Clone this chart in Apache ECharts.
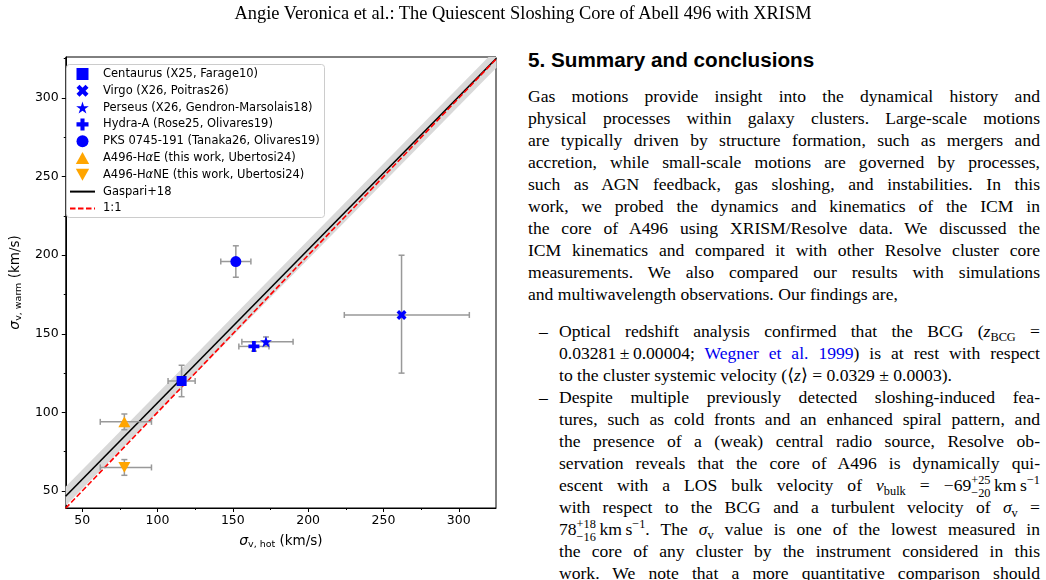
<!DOCTYPE html>
<html>
<head>
<meta charset="utf-8">
<script src="https://cdn.jsdelivr.net/npm/echarts@6/dist/echarts.min.js"></script>
<style>
  body { margin: 0; width: 1046px; height: 580px; overflow: hidden; background: #fff; position: relative; }
  #chart { position: absolute; left: 0; top: 0; width: 520px; height: 580px; }
  .serif { font-family: "Liberation Serif", "DejaVu Serif", serif; color: #000; }
  #hdr { position: absolute; left: 0; width: 1046px; top: 2px; text-align: center; font-size: 18.4px; line-height: 22px; }
  #h5 { position: absolute; left: 528px; top: 48px; font-family: "Liberation Sans", Arial, sans-serif; font-weight: bold; font-size: 20.7px; }
  #para { position: absolute; left: 528px; top: 85px; width: 512px; font-size: 17.6px; line-height: 22px; }
  #bul { position: absolute; left: 528px; top: 320px; width: 512px; font-size: 17.6px; line-height: 22px; }
  .ln { height: 22px; white-space: normal; }
  .j { text-align: justify; text-align-last: justify; }
  .item { position: relative; padding-left: 31px; }
  .dash { position: absolute; left: 11px; top: 0; }
  sub, sup { font-size: 70%; line-height: 0; }
  sub { vertical-align: -0.3em; }
  sup { vertical-align: 0.55em; }
  .ss { display: inline-block; vertical-align: -0.45em; font-size: 70%; line-height: 1; }
  .ss span { display: block; }
  .blue { color: #0000ee; }
</style>
</head>
<body>
<div id="chart"></div>

<div id="hdr" class="serif">Angie Veronica et al.: The Quiescent Sloshing Core of Abell 496 with XRISM</div>
<div id="h5">5. Summary and conclusions</div>

<div id="para" class="serif">
  <div class="ln j">Gas motions provide insight into the dynamical history and</div>
  <div class="ln j">physical processes within galaxy clusters. Large-scale motions</div>
  <div class="ln j">are typically driven by structure formation, such as mergers and</div>
  <div class="ln j">accretion, while small-scale motions are governed by processes,</div>
  <div class="ln j">such as AGN feedback, gas sloshing, and instabilities. In this</div>
  <div class="ln j">work, we probed the dynamics and kinematics of the ICM in</div>
  <div class="ln j">the core of A496 using XRISM/Resolve data. We discussed the</div>
  <div class="ln j">ICM kinematics and compared it with other Resolve cluster core</div>
  <div class="ln j">measurements. We also compared our results with simulations</div>
  <div class="ln">and multiwavelength observations. Our findings are,</div>
</div>

<div id="bul" class="serif">
  <div class="item"><span class="dash">–</span>
    <div class="ln j">Optical redshift analysis confirmed that the BCG (<i>z</i><sub>BCG</sub> =</div>
    <div class="ln j">0.03281&thinsp;±&thinsp;0.00004; <span class="blue">Wegner et al. 1999</span>) is at rest with respect</div>
    <div class="ln">to the cluster systemic velocity (⟨<i>z</i>⟩ = 0.0329 ± 0.0003).</div>
  </div>
  <div class="item"><span class="dash">–</span>
    <div class="ln j">Despite multiple previously detected sloshing-induced fea-</div>
    <div class="ln j">tures, such as cold fronts and an enhanced spiral pattern, and</div>
    <div class="ln j">the presence of a (weak) central radio source, Resolve ob-</div>
    <div class="ln j">servation reveals that the core of A496 is dynamically qui-</div>
    <div class="ln j">escent with a LOS bulk velocity of <i>v</i><sub>bulk</sub> = −69<span class="ss"><span>+25</span><span>−20</span></span>&thinsp;km&thinsp;s<sup>−1</sup></div>
    <div class="ln j">with respect to the BCG and a turbulent velocity of <i>σ</i><sub>v</sub> =</div>
    <div class="ln j">78<span class="ss"><span>+18</span><span>−16</span></span>&thinsp;km&thinsp;s<sup>−1</sup>. The <i>σ</i><sub>v</sub> value is one of the lowest measured in</div>
    <div class="ln j">the core of any cluster by the instrument considered in this</div>
    <div class="ln j">work. We note that a more quantitative comparison should</div>
  </div>
</div>

<script>
// cluster core measurements (km/s)
const names = [
  'Centaurus (X25, Farage10)',
  'Virgo (X26, Poitras26)',
  'Perseus (X26, Gendron-Marsolais18)',
  'Hydra-A (Rose25, Olivares19)',
  'PKS 0745-191 (Tanaka26, Olivares19)',
  'A496-HαE (this work, Ubertosi24)',
  'A496-HαNE (this work, Ubertosi24)'
];
const sigmaHot  = [116, 262, 172, 164, 152, 78, 78];
const sigmaWarm = [120, 162, 145, 142, 196, 94, 65];
const hotErrLo  = [9, 38, 16, 10, 10, 16, 16];
const hotErrHi  = [9, 45, 18, 10, 10, 18, 18];
const warmErrLo = [10, 37, 3, 3, 10, 5, 5];
const warmErrHi = [10, 38, 3, 3, 10, 5, 5];

// Gaspari+18 relation and its scatter band, 1:1 line
const gaspariX = [39, 325];
const gaspariY = [46.7, 325.3];
const bandLow  = [40.7, 319.3];
const bandHigh = [52.7, 331.3];
const oneToOne = [39, 327];

const xTicks = [50, 100, 150, 200, 250, 300];
const xMinorTicks = [75, 125, 175, 225, 275];
const yTicks = [50, 100, 150, 200, 250, 300];
const yMinorTicks = [75, 125, 175, 225, 275, 325];

const BLUE = '#0000ff', ORANGE = '#ffa500';
const markers = [
  { symbol: 'path://M0,0 L1,0 L1,1 L0,1 Z', size: 10, color: BLUE },
  { symbol: 'path://M0.25,0 L0.5,0.25 L0.75,0 L1,0.25 L0.75,0.5 L1,0.75 L0.75,1 L0.5,0.75 L0.25,1 L0,0.75 L0.25,0.5 L0,0.25 Z', size: 10, color: BLUE },
  { symbol: 'path://M0,-1 L0.224,-0.308 L0.951,-0.309 L0.362,0.118 L0.588,0.809 L0,0.381 L-0.588,0.809 L-0.362,0.118 L-0.951,-0.309 L-0.224,-0.308 Z', size: 12, color: BLUE },
  { symbol: 'path://M0.33,0 L0.67,0 L0.67,0.33 L1,0.33 L1,0.67 L0.67,0.67 L0.67,1 L0.33,1 L0.33,0.67 L0,0.67 L0,0.33 L0.33,0.33 Z', size: 11, color: BLUE },
  { symbol: 'path://M0,-1 A1,1 0 1,1 0,1 A1,1 0 1,1 0,-1 Z', size: 11, color: BLUE },
  { symbol: 'path://M0.5,0 L1,0.9 L0,0.9 Z', size: 12, color: ORANGE },
  { symbol: 'path://M0,0 L1,0 L0.5,0.9 Z', size: 12, color: ORANGE }
];

const FONT = 'DejaVu Sans';
const xMin = 39.1, xMax = 324.7, yMin = 39.2, yMax = 326.1;

var chart = echarts.init(document.getElementById('chart'));

function axisBase(min, max) {
  return { type: 'value', min: min, max: max, splitLine: { show: false } };
}

var scatterSeries = names.map(function (n, i) {
  return {
    name: n,
    type: 'scatter',
    z: 6,
    symbol: markers[i].symbol,
    symbolSize: markers[i].size,
    symbolKeepAspect: true,
    itemStyle: { color: markers[i].color, opacity: 1 },
    data: [[sigmaHot[i], sigmaWarm[i]]]
  };
});

var errData = sigmaHot.map(function (x, i) {
  return [x, sigmaWarm[i], hotErrLo[i], hotErrHi[i], warmErrLo[i], warmErrHi[i]];
});

var nameRich = {
  s: { fontFamily: FONT, fontStyle: 'italic', fontSize: 14, lineHeight: 18, color: '#000' },
  sub: { fontFamily: FONT, fontSize: 9.5, lineHeight: 8, verticalAlign: 'bottom', color: '#000' },
  n: { fontFamily: FONT, fontSize: 13.5, lineHeight: 18, color: '#000' }
};

var legendData = names.map(function (n) { return { name: n }; }).concat([
  { name: 'Gaspari+18', itemStyle: { opacity: 0 } },
  { name: '1:1', itemStyle: { opacity: 0 } }
]);

var option = {
  animation: false,
  grid: { left: 59, top: 57, width: 437, height: 451, show: true, borderColor: '#000', borderWidth: 1, backgroundColor: 'transparent' },
  graphic: [{
    type: 'rect',
    left: 66, top: 64, z: 50,
    shape: { width: 258, height: 153, r: 3 },
    style: { fill: 'rgba(255,255,255,0.8)', stroke: '#cccccc', lineWidth: 1 }
  }],
  xAxis: [
    Object.assign(axisBase(xMin, xMax), {
      position: 'bottom',
      axisLine: { show: true, onZero: false, lineStyle: { color: '#000', width: 1 } },
      axisTick: { show: true, length: 4, customValues: xTicks, lineStyle: { color: '#000' } },
      axisLabel: { customValues: xTicks, margin: 6, color: '#000', fontFamily: FONT, fontSize: 12.5 },
      name: '{s|σ}{sub|v, hot} {n|(km/s)}',
      nameLocation: 'middle',
      nameGap: 24,
      nameTextStyle: { color: '#000', fontFamily: FONT, fontSize: 13.5, rich: nameRich }
    }),
    Object.assign(axisBase(xMin, xMax), {
      position: 'bottom',
      axisLine: { show: false, onZero: false },
      axisTick: { show: true, length: 2, customValues: xMinorTicks, lineStyle: { color: '#000' } },
      axisLabel: { show: false }
    })
  ],
  yAxis: [
    Object.assign(axisBase(yMin, yMax), {
      position: 'left',
      axisLine: { show: true, onZero: false, lineStyle: { color: '#000', width: 1 } },
      axisTick: { show: true, length: 4, customValues: yTicks, lineStyle: { color: '#000' } },
      axisLabel: { customValues: yTicks, margin: 7, color: '#000', fontFamily: FONT, fontSize: 12.5 },
      name: '{s|σ}{sub|v, warm} {n|(km/s)}',
      nameLocation: 'middle',
      nameRotate: 90,
      nameGap: 35,
      nameTextStyle: { color: '#000', fontFamily: FONT, fontSize: 13.5, rich: nameRich }
    }),
    Object.assign(axisBase(yMin, yMax), {
      position: 'left',
      axisLine: { show: false, onZero: false },
      axisTick: { show: true, length: 2, customValues: yMinorTicks, lineStyle: { color: '#000' } },
      axisLabel: { show: false }
    })
  ],
  legend: {
    orient: 'vertical',
    left: 66,
    top: 64,
    z: 60,
    padding: [4, 5, 3, 3],
    itemWidth: 25,
    itemHeight: 12,
    itemGap: 4.8,
    selectedMode: false,
    symbolKeepAspect: true,
    data: legendData,
    formatter: function (n) { return n.replace('α', '{i|α}'); },
    textStyle: {
      color: '#000', fontFamily: FONT, fontSize: 11.5, lineHeight: 12, padding: [0, 0, 0, 3],
      rich: { i: { fontFamily: FONT, fontStyle: 'italic', fontSize: 11.5, color: '#000' } }
    }
  },
  series: [
    {
      type: 'custom',
      name: 'band',
      z: 1,
      clip: true,
      silent: true,
      data: [0],
      renderItem: function (params, api) {
        var pts = [
          api.coord([gaspariX[0], bandLow[0]]),
          api.coord([gaspariX[1], bandLow[1]]),
          api.coord([gaspariX[1], bandHigh[1]]),
          api.coord([gaspariX[0], bandHigh[0]])
        ];
        return { type: 'polygon', shape: { points: pts }, style: { fill: '#d9d9d9' } };
      }
    },
    {
      name: 'Gaspari+18',
      type: 'line',
      z: 2,
      symbol: 'none',
      lineStyle: { color: '#000', width: 1.6 },
      itemStyle: { color: '#000' },
      data: gaspariX.map(function (x, i) { return [x, gaspariY[i]]; })
    },
    {
      name: '1:1',
      type: 'line',
      z: 3,
      symbol: 'none',
      lineStyle: { color: '#ff0000', width: 1.6, type: [5.5, 2.5] },
      itemStyle: { color: '#ff0000' },
      data: oneToOne.map(function (v) { return [v, v]; })
    },
    {
      type: 'custom',
      name: 'errors',
      z: 4,
      silent: true,
      data: errData,
      renderItem: function (params, api) {
        var x = api.value(0), y = api.value(1);
        var c = api.coord([x, y]);
        var l = api.coord([x - api.value(2), y])[0];
        var r = api.coord([x + api.value(3), y])[0];
        var b = api.coord([x, y - api.value(4)])[1];
        var t = api.coord([x, y + api.value(5)])[1];
        var cap = 3;
        var st = { stroke: '#999999', lineWidth: 1.5 };
        return {
          type: 'group',
          children: [
            { type: 'line', shape: { x1: l, y1: c[1], x2: r, y2: c[1] }, style: st },
            { type: 'line', shape: { x1: c[0], y1: t, x2: c[0], y2: b }, style: st },
            { type: 'line', shape: { x1: l, y1: c[1] - cap, x2: l, y2: c[1] + cap }, style: st },
            { type: 'line', shape: { x1: r, y1: c[1] - cap, x2: r, y2: c[1] + cap }, style: st },
            { type: 'line', shape: { x1: c[0] - cap, y1: t, x2: c[0] + cap, y2: t }, style: st },
            { type: 'line', shape: { x1: c[0] - cap, y1: b, x2: c[0] + cap, y2: b }, style: st }
          ]
        };
      }
    }
  ].concat(scatterSeries)
};

chart.setOption(option);
</script>
</body>
</html>
